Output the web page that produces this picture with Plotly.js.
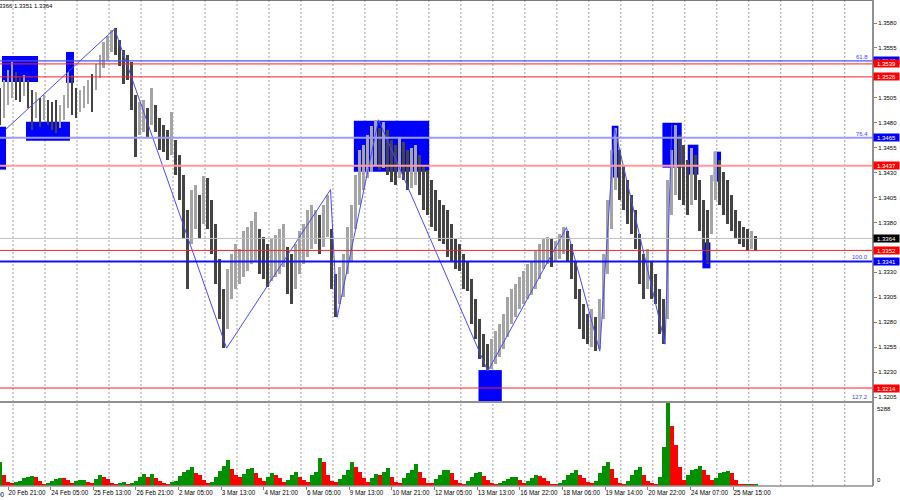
<!DOCTYPE html>
<html><head><meta charset="utf-8">
<script src="https://cdn.plot.ly/plotly-3.0.1.min.js"></script>
<style>html,body{margin:0;padding:0;background:#fff;overflow:hidden}#chart{width:900px;height:500px}</style>
</head><body><div id="chart"></div>
<script>
// ---- data (H1 bars, one sample every 3 hours) ----
const barHigh = [1.3515,1.3523,1.3533,1.3541,1.3531,1.3525,1.3528,1.3523,1.3513,1.3511,
 1.3505,1.3508,1.3503,1.3501,1.3503,1.3498,1.3508,1.3531,1.3528,1.3515,
 1.3513,1.3517,1.3523,1.3529,1.3539,1.3548,1.3561,1.3567,1.3573,1.3575,
 1.3563,1.3553,1.3548,1.3541,1.3508,1.3501,1.3503,1.3495,1.3515,1.3498,
 1.3485,1.3478,1.3473,1.3491,1.3463,1.3448,1.3428,1.3393,1.3413,1.3418,
 1.3408,1.3427,1.3425,1.3403,1.3378,1.3343,1.3313,1.3333,1.3348,1.3358,
 1.3353,1.3371,1.3375,1.3381,1.3391,1.3373,1.3365,1.3358,1.3363,1.3367,
 1.3373,1.3378,1.3355,1.3348,1.3358,1.3371,1.3378,1.3393,1.3398,1.3393,
 1.3388,1.3398,1.3408,1.3373,1.3328,1.3335,1.3348,1.3375,1.3398,1.3428,
 1.3453,1.3458,1.3468,1.3477,1.3483,1.3475,1.3481,1.3473,1.3463,1.3458,
 1.3465,1.3461,1.3453,1.3455,1.3458,1.3448,1.3438,1.3433,1.3423,1.3413,
 1.3403,1.3398,1.3393,1.3378,1.3363,1.3358,1.3348,1.3341,1.3323,1.3303,
 1.3283,1.3268,1.3258,1.3263,1.3271,1.3278,1.3288,1.3305,1.3313,1.3318,
 1.3325,1.3331,1.3338,1.3341,1.3351,1.3358,1.3363,1.3365,1.3363,1.3361,
 1.3368,1.3375,1.3371,1.3358,1.3341,1.3313,1.3298,1.3288,1.3293,1.3285,
 1.3303,1.3348,1.3403,1.3453,1.3475,1.3453,1.3438,1.3423,1.3408,1.3393,
 1.3368,1.3348,1.3353,1.3341,1.3328,1.3313,1.3303,1.3423,1.3453,1.3478,
 1.3468,1.3458,1.3443,1.3455,1.3448,1.3423,1.3403,1.3393,1.3428,1.3451,
 1.3443,1.3431,1.3423,1.3408,1.3393,1.3381,1.3375,1.3373,1.3371,1.3366];
const barLow = [1.3478,1.3485,1.3498,1.3505,1.3503,1.3501,1.3507,1.3495,1.3473,1.3485,
 1.3476,1.3483,1.3478,1.3473,1.3470,1.3475,1.3483,1.3495,1.3488,1.3485,
 1.3491,1.3495,1.3499,1.3491,1.3513,1.3525,1.3535,1.3543,1.3551,1.3548,
 1.3537,1.3519,1.3523,1.3493,1.3446,1.3468,1.3471,1.3465,1.3478,1.3471,
 1.3453,1.3451,1.3443,1.3448,1.3428,1.3403,1.3363,1.3313,1.3358,1.3373,
 1.3363,1.3378,1.3373,1.3348,1.3318,1.3283,1.3254,1.3273,1.3303,1.3313,
 1.3318,1.3325,1.3331,1.3338,1.3341,1.3328,1.3323,1.3315,1.3321,1.3325,
 1.3328,1.3335,1.3308,1.3298,1.3313,1.3328,1.3338,1.3345,1.3353,1.3358,
 1.3348,1.3355,1.3365,1.3313,1.3285,1.3298,1.3305,1.3328,1.3341,1.3373,
 1.3398,1.3413,1.3425,1.3431,1.3438,1.3433,1.3435,1.3428,1.3421,1.3418,
 1.3425,1.3423,1.3413,1.3415,1.3418,1.3408,1.3393,1.3388,1.3375,1.3371,
 1.3361,1.3358,1.3345,1.3341,1.3333,1.3331,1.3313,1.3311,1.3278,1.3263,
 1.3243,1.3235,1.3231,1.3233,1.3238,1.3245,1.3253,1.3265,1.3278,1.3285,
 1.3293,1.3298,1.3303,1.3307,1.3313,1.3323,1.3333,1.3338,1.3335,1.3341,
 1.3343,1.3348,1.3341,1.3323,1.3303,1.3273,1.3263,1.3258,1.3255,1.3251,
 1.3253,1.3283,1.3328,1.3373,1.3413,1.3403,1.3393,1.3378,1.3368,1.3353,
 1.3318,1.3303,1.3313,1.3303,1.3298,1.3268,1.3258,1.3283,1.3388,1.3408,
 1.3403,1.3398,1.3388,1.3398,1.3403,1.3371,1.3353,1.3338,1.3368,1.3403,
 1.3398,1.3388,1.3378,1.3371,1.3363,1.3358,1.3355,1.3351,1.3353,1.3351];
const barVolume = [1500,700,250,200,250,350,500,600,650,550,
 300,150,200,350,450,520,480,380,200,300,
 380,400,250,200,450,700,600,450,200,150,
 180,250,150,200,300,550,750,600,780,500,
 350,200,150,250,350,650,900,1000,1200,800,
 700,400,200,250,600,950,1300,1650,1100,700,
 600,750,1100,1150,800,500,300,600,800,700,
 500,250,400,700,900,600,400,250,700,900,
 1800,1500,700,300,250,450,700,1000,1500,1200,
 900,500,250,500,750,700,900,1150,600,250,
 200,500,800,1000,1400,900,500,200,200,450,
 700,1000,1050,800,400,200,150,350,600,850,
 900,650,400,200,150,180,300,450,550,600,
 400,200,300,500,700,650,500,300,150,120,
 200,400,700,850,1000,700,500,250,200,350,
 800,1300,1550,1100,500,200,150,350,700,1000,
 1200,700,300,200,150,600,2500,5288,3800,2600,
 1200,400,700,1000,1100,1300,1000,700,400,500,
 800,900,950,800,400,150,120,150,100,150];
const hoursPerSample = 3;

const timeIdx = [6,38,70,102,134,166,198,230,262,294,326,358,390,422,454,486,518,550];
const timeLabels = ['20 Feb 21:00','24 Feb 05:00','25 Feb 13:00','26 Feb 21:00','2 Mar 05:00','3 Mar 13:00',
 '4 Mar 21:00','6 Mar 05:00','9 Mar 13:00','10 Mar 21:00','12 Mar 05:00','13 Mar 13:00',
 '16 Mar 22:00','18 Mar 06:00','19 Mar 14:00','20 Mar 22:00','24 Mar 07:00','25 Mar 15:00'];
const priceTicks = [1.3205,1.3230,1.3255,1.3280,1.3305,1.3330,1.3380,1.3405,1.3430,1.3455,1.3480,1.3505,1.3555,1.3580];
const gridIdx = [9.8,33.8,57.8,81.8,105.8,129.8,153.8,177.8,201.8,225.8,249.8,273.8,297.8,321.8,345.8,369.8,
 393.8,417.8,441.8,465.8,489.8,513.8,537.8,561.8,585.8,609.8,633.8];

const zigIdx = [4,86,170,248,253,284,366,425,450,461,499,504];
const zigPrice = [1.3473,1.3574,1.3254,1.3413,1.3285,1.3483,1.3231,1.3375,1.3251,1.3475,1.3258,1.3478];

const zoneStart = [1.5,-6,19.5,49.5,265.5,359,459,497,516,535.5,527];
const zoneEnd   = [28.5,4.5,52.5,55.5,322,376.5,464,511.5,524,541,533];
const zoneTop   = [1.3547,1.3476,1.3481,1.3551,1.3482,1.3232,1.3477,1.3480,1.3458,1.3451,1.3360];
const zoneBottom= [1.3521,1.3433,1.3462,1.3520,1.3431,1.3200,1.3425,1.3435,1.3428,1.3421,1.3334];

const levelPrices = [1.3542,1.3539,1.3526,1.3465,1.3437,1.3364,1.3352,1.3341,1.3214];
const levelKinds  = ['fib','red','red','fibLight','redLight','bid','red','fibStrong','red'];

const fibLabels = ['61.8','76.4','100.0','127.2'];
const fibPrices = [1.3542,1.3465,1.3341,1.3198];

const volumeMax = 5288;
const ohlcHeader = '1.3366 1.3351 1.3364';

// ---- styles ----
const yRange = [1.32010, 1.36031];
const xRange = [0, 655];
const F = 'Liberation Sans, Arial, sans-serif';
const levelStyle = {
  fib:{color:'#5050ff',width:1.2}, red:{color:'#ff2020',width:1}, fibLight:{color:'#9a9aff',width:2},
  redLight:{color:'#ff9a9a',width:2}, bid:{color:'#c0c0c0',width:1}, fibStrong:{color:'#1010ff',width:2}
};
const labelBg = {fib:'#0000ff',red:'#ff0000',fibLight:'#0000ff',redLight:'#ff0000',bid:'#000000',fibStrong:'#0000ff'};

const xs = barHigh.map((_,k)=>k*hoursPerSample);
const barColors = barHigh.map((h,k)=>{
  if(k===0) return '#444444';
  return (h+barLow[k]) >= (barHigh[k-1]+barLow[k-1]) ? '#a4a4a4' : '#444444';
});
const volColors = barVolume.map((v,k)=> (k===0 || v>barVolume[k-1]) ? '#009000' : '#ff0000');

const traces = [
  {type:'bar', x:xs, base:barLow, y:barHigh.map((h,k)=>h-barLow[k]), width:2.2,
   marker:{color:barColors, line:{width:0}}, xaxis:'x', yaxis:'y', hoverinfo:'skip'},
  {type:'scatter', mode:'lines', x:zigIdx, y:zigPrice, line:{color:'#4a4aff',width:1},
   xaxis:'x', yaxis:'y', hoverinfo:'skip'},
  {type:'bar', x:xs, y:barVolume, width:2.9, marker:{color:volColors, line:{width:0}},
   xaxis:'x', yaxis:'y2', hoverinfo:'skip'}
];

const shapes = [];
gridIdx.forEach(g=>{
  shapes.push({type:'line', xref:'x', yref:'paper', x0:g, x1:g, y0:0, y1:1, layer:'below',
    line:{color:'#a0a0a0', width:1, dash:'2px,2px'}});
});
zoneStart.forEach((s,i)=>{
  shapes.push({type:'rect', xref:'x', yref:'y', x0:s, x1:zoneEnd[i], y0:zoneBottom[i], y1:zoneTop[i],
    fillcolor:'#0000ff', line:{width:0}, layer:'below'});
});
levelPrices.forEach((p,i)=>{
  const st = levelStyle[levelKinds[i]];
  shapes.push({type:'line', xref:'paper', yref:'y', x0:0, x1:1, y0:p, y1:p, layer:'above',
    line:{color:st.color, width:st.width}});
});
const mainBottom = 0.1749, volTop = 0.1708;
shapes.push({type:'line', xref:'paper', yref:'paper', x0:0, x1:1, y0:(mainBottom+volTop)/2, y1:(mainBottom+volTop)/2,
  line:{color:'#909090', width:2}});
shapes.push({type:'line', xref:'paper', yref:'paper', x0:0, x1:1, y0:1, y1:1, line:{color:'#505050', width:1.5}});
shapes.push({type:'line', xref:'paper', yref:'paper', x0:0, x1:1, y0:0, y1:0, line:{color:'#909090', width:1.5}});
shapes.push({type:'line', xref:'paper', yref:'paper', x0:1, x1:1, y0:0, y1:1, line:{color:'#909090', width:2}});

const annotations = [];
annotations.push({xref:'paper', yref:'paper', x:55/873, y:1, xanchor:'right', yanchor:'top', yshift:-1,
  text:ohlcHeader, showarrow:false, font:{family:F, size:6, color:'#000'}});
fibLabels.forEach((t,i)=>{
  const p = Math.max(fibPrices[i], yRange[0]+0.00005);
  annotations.push({xref:'paper', yref:'y', x:870/873, y:p, xanchor:'right', yanchor:'bottom', yshift:-1,
    text:t, showarrow:false, font:{family:F, size:6, color:'#4040ff'}});
});
levelPrices.forEach((p,i)=>{
  annotations.push({xref:'paper', yref:'y', x:1, y:p, xanchor:'left', yanchor:'middle', xshift:0,
    text:p.toFixed(4), showarrow:false, bgcolor:labelBg[levelKinds[i]], width:25, height:7, borderpad:0, align:'center',
    font:{family:F, size:6, color:'#fff'}});
});
annotations.push({xref:'paper', yref:'paper', x:1, y:volTop, xanchor:'left', yanchor:'top', xshift:2, yshift:-1,
  text:String(volumeMax), showarrow:false, font:{family:F, size:6, color:'#000'}});
annotations.push({xref:'paper', yref:'paper', x:1, y:0, xanchor:'left', yanchor:'bottom', xshift:2, yshift:1,
  text:'0', showarrow:false, font:{family:F, size:6, color:'#000'}});
annotations.push({xref:'paper', yref:'paper', x:-26/xRange[1], y:0, xanchor:'left', yanchor:'top', yshift:-3,
  text:'19 Feb 13:00', showarrow:false, font:{family:F, size:6.3, color:'#000'}});

const layout = {
  width:900, height:500, margin:{l:0, r:27, t:0, b:14, pad:0},
  paper_bgcolor:'#fff', plot_bgcolor:'#fff', showlegend:false, barmode:'overlay', bargap:0,
  xaxis:{range:xRange, domain:[0,1], anchor:'y2', tickmode:'array', tickvals:timeIdx, ticktext:timeLabels,
    tickangle:0, ticks:'outside', ticklen:3, tickcolor:'#808080', ticklabelposition:'outside right',
    tickfont:{family:F, size:6.3, color:'#000'}, showgrid:false, zeroline:false, showline:false, fixedrange:true},
  yaxis:{domain:[mainBottom,1], range:yRange, side:'right', anchor:'x', tickmode:'array', tickvals:priceTicks,
    tickformat:'.4f', ticks:'outside', ticklen:3, tickcolor:'#808080', tickfont:{family:F, size:6, color:'#000'},
    showgrid:false, zeroline:false, showline:false, fixedrange:true},
  yaxis2:{domain:[0,volTop], range:[0,volumeMax], anchor:'x', showticklabels:false, showgrid:false,
    zeroline:false, showline:false, ticks:'', fixedrange:true},
  shapes:shapes, annotations:annotations
};
Plotly.newPlot('chart', traces, layout, {staticPlot:true, displayModeBar:false});
</script></body></html>
